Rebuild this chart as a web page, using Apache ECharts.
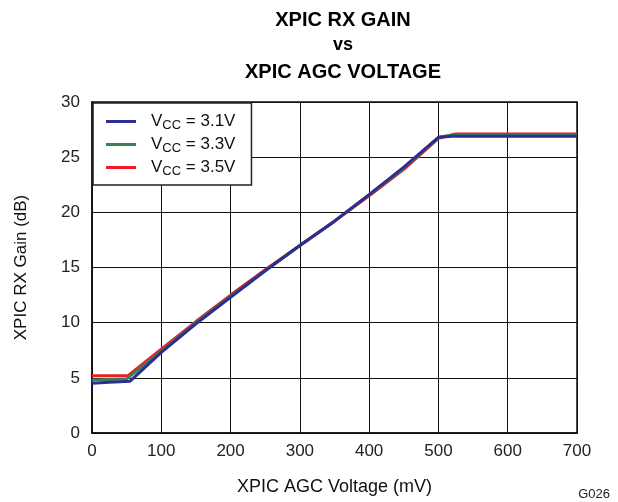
<!DOCTYPE html>
<html><head><meta charset="utf-8">
<script src="https://cdn.jsdelivr.net/npm/echarts@6/dist/echarts.min.js"></script>
<style>html,body{margin:0;padding:0;background:#fff}#c{width:618px;height:502px}</style>
</head><body><div id="c"></div>
<script>
const xTicks = [0, 100, 200, 300, 400, 500, 600, 700];
const yTicks = [0, 5, 10, 15, 20, 25, 30];
const seriesNames = ['3.1V', '3.3V', '3.5V'];
const vcc31X = [0, 25, 55, 100, 150, 200, 250, 300, 350, 400, 450, 500, 520, 700];
const vcc31Y = [4.5, 4.6, 4.7, 7.3, 9.9, 12.3, 14.7, 17.0, 19.2, 21.6, 24.1, 26.8, 26.9, 26.9];
const vcc33X = [0, 50, 100, 150, 200, 250, 300, 350, 400, 450, 500, 520, 700];
const vcc33Y = [4.8, 4.9, 7.4, 10.0, 12.4, 14.7, 17.0, 19.2, 21.6, 24.0, 26.8, 27.0, 27.0];
const vcc35X = [0, 52, 100, 150, 200, 250, 300, 350, 400, 450, 500, 525, 700];
const vcc35Y = [5.2, 5.2, 7.6, 10.1, 12.5, 14.8, 17.0, 19.2, 21.5, 23.9, 26.7, 27.1, 27.1];
const colors = ['#2b2f8f', '#3f7d56', '#ee1c25'];

const pairs = (xs, ys) => xs.map((x, i) => [x, ys[i]]);
const allData = [pairs(vcc31X, vcc31Y), pairs(vcc33X, vcc33Y), pairs(vcc35X, vcc35Y)];

const chart = echarts.init(document.getElementById('c'));
const font = 'Liberation Sans, Arial, sans-serif';
chart.setOption({
  animation: false,
  title: [
    {text: 'XPIC RX GAIN', left: 338, top: 5, textAlign: 'center', textStyle: {fontFamily: font, fontSize: 20, fontWeight: 'bold', color: '#000'}},
    {text: 'vs', left: 338, top: 31, textAlign: 'center', textStyle: {fontFamily: font, fontSize: 18, fontWeight: 'bold', color: '#000'}},
    {text: 'XPIC AGC VOLTAGE', left: 338, top: 57, textAlign: 'center', textStyle: {fontFamily: font, fontSize: 20, fontWeight: 'bold', color: '#000'}},
    {text: 'G026', right: 8, top: 488, padding: 0, textStyle: {fontFamily: font, fontSize: 13, fontWeight: 'normal', color: '#222'}}
  ],
  grid: {left: 92, right: 41, top: 102, bottom: 69, show: true, borderColor: '#111', borderWidth: 1.5, containLabel: false},
  legend: {
    data: seriesNames, orient: 'vertical', left: 93, top: 103, icon: 'rect',
    backgroundColor: '#fff', borderColor: '#222', borderWidth: 1.5,
    padding: [10, 16, 7, 13], itemGap: 4, itemWidth: 30, itemHeight: 3,
    textStyle: {fontFamily: font, fontSize: 17, color: '#111', padding: [0, 0, 0, 10],
      rich: {v: {fontFamily: font, fontSize: 17, color: '#111'},
             s: {fontFamily: font, fontSize: 13, color: '#111', padding: [8, 0, 0, 0]}}},
    formatter: n => '{v|V}{s|CC}{v| = ' + n + '}'
  },
  xAxis: {
    type: 'value', min: 0, max: 700, interval: 100,
    name: 'XPIC AGC Voltage (mV)', nameLocation: 'middle', nameGap: 45,
    nameTextStyle: {fontFamily: font, fontSize: 18, color: '#111'},
    axisLine: {show: true, lineStyle: {color: '#111', width: 1.5}},
    axisTick: {show: false},
    axisLabel: {fontFamily: font, fontSize: 17, color: '#222', margin: 10, formatter: v => xTicks.includes(v) ? String(v) : ''},
    splitLine: {show: true, lineStyle: {color: '#111', width: 1}}
  },
  yAxis: {
    type: 'value', min: 0, max: 30, interval: 5,
    name: 'XPIC RX Gain (dB)', nameLocation: 'middle', nameGap: 62, nameRotate: 90,
    nameTextStyle: {fontFamily: font, fontSize: 17, color: '#111'},
    axisLine: {show: true, lineStyle: {color: '#111', width: 1.5}},
    axisTick: {show: false},
    axisLabel: {fontFamily: font, fontSize: 17, color: '#222', margin: 12, formatter: v => yTicks.includes(v) ? String(v) : ''},
    splitLine: {show: true, lineStyle: {color: '#111', width: 1}}
  },
  series: seriesNames.map((n, i) => ({
    name: n, type: 'line', data: allData[i], symbol: 'none', z: 3 + (2 - i),
    lineStyle: {color: colors[i], width: 3}, itemStyle: {color: colors[i]}
  }))
});
</script></body></html>
